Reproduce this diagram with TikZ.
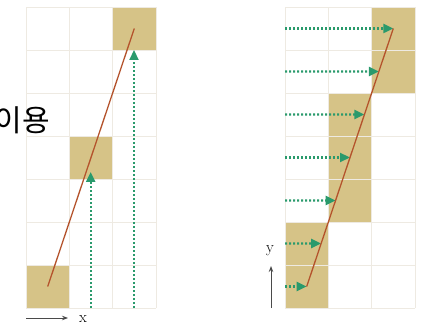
\documentclass[tikz,border=0pt]{standalone}
\usepackage{fontspec}
\newfontfamily\kr{Noto Sans CJK KR}
\usetikzlibrary{arrows.meta,calc}
\definecolor{cellfill}{HTML}{D6C387}
\definecolor{gridc}{HTML}{EEEAE2}
\definecolor{linec}{HTML}{B4532C}
\definecolor{arrowc}{HTML}{2A9A6C}
\definecolor{axisc}{HTML}{4A4A4A}
\begin{document}
\begin{tikzpicture}[x=1pt,y=-1pt,
  cell/.style={fill=cellfill,draw=none},
  gridline/.style={draw=gridc,line width=0.6pt},
  seg/.style={draw=linec,line width=1.3pt},
  probe/.style={draw=arrowc,line width=2.2pt,dash pattern=on 2pt off 2pt,-{Triangle[length=10pt,width=9pt]}},
  axis/.style={draw=axisc,line width=0.9pt,-{Stealth[length=6pt,width=4.5pt]}},
  axlabel/.style={font=\fontsize{16}{16}\selectfont,text=black,inner sep=0pt}]
\useasboundingbox (0,0) rectangle (425,328);
% ---------- left grid ----------
\fill[cell] (26,265) rectangle (69.3,308);
\fill[cell] (69.3,136) rectangle (112.7,179);
\fill[cell] (112.7,7) rectangle (156,50);
\foreach \i in {0,...,3} \draw[gridline] ({26+43.33*\i},7) -- ({26+43.33*\i},308);
\foreach \j in {0,...,7} \draw[gridline] (26,{7+43*\j}) -- (156,{7+43*\j});
% ---------- right grid ----------
\fill[cell] (285,222) rectangle (328.3,308);
\fill[cell] (328.3,93) rectangle (371.7,222);
\fill[cell] (371.7,7) rectangle (415,93);
\foreach \i in {0,...,3} \draw[gridline] ({285+43.33*\i},7) -- ({285+43.33*\i},308);
\foreach \j in {0,...,7} \draw[gridline] (285,{7+43*\j}) -- (415,{7+43*\j});
% ---------- left: line and vertical probes ----------
\coordinate (A1) at (47.7,286.5);
\coordinate (A2) at (134.3,28.5);
\coordinate (u1s) at (90.7,308);
\coordinate (u1e) at (90.7,172);
\coordinate (u2s) at (134,308);
\coordinate (u2e) at (134,50);
\draw[probe] (u1s) -- (u1e);
\draw[probe] (u2s) -- (u2e);
\draw[seg] (A1) -- (A2);
% ---------- right: line and horizontal probes ----------
\coordinate (B1) at (306.7,286.5);
\coordinate (B2) at (393.3,28.5);
\foreach \i in {0,...,6} {
  \coordinate (h\i e) at ($(B1)!{\i/6}!(B2)$);
  \coordinate (h\i s) at (285,{286.5-43*\i});
  \draw[probe] (h\i s) -- (h\i e);
}
\draw[seg] (B1) -- (B2);
% ---------- axes ----------
\coordinate (xs) at (26,318);
\coordinate (xe) at (68,318);
\draw[axis] (xs) -- (xe);
\node[axlabel] (xl) at (83,319) {x};
\coordinate (ys) at (271,308);
\coordinate (ye) at (271,266);
\draw[axis] (ys) -- (ye);
\node[axlabel] (yl) at (270,251) {y};
% ---------- cropped text ----------
\node[anchor=east,inner sep=0pt,font=\kr\fontsize{30}{30}\selectfont] (txt) at (50,120) {이용};
\end{tikzpicture}
\end{document}
